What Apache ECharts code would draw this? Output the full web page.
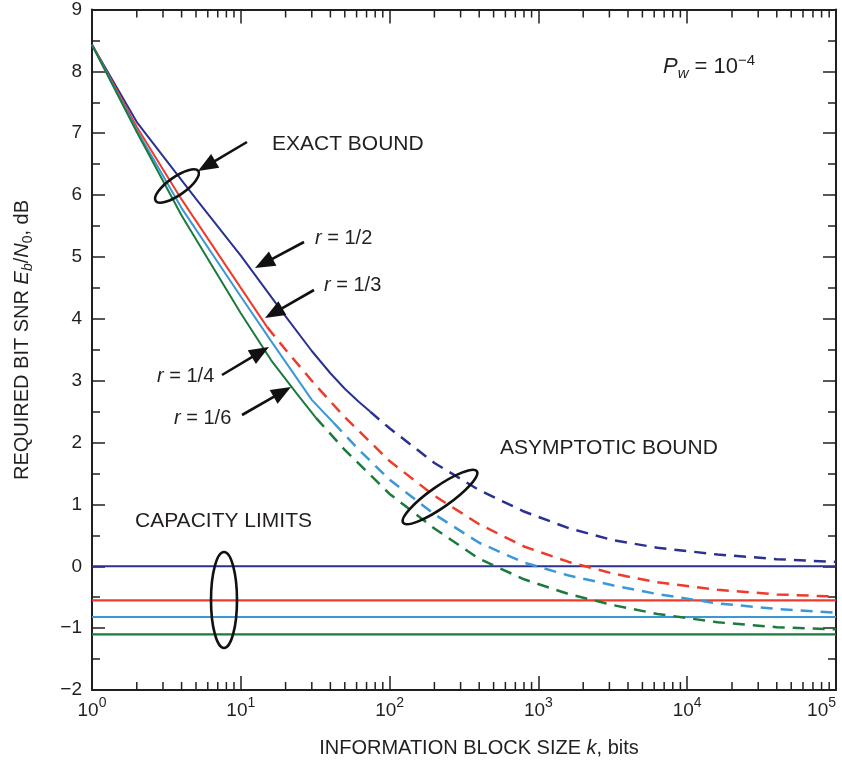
<!DOCTYPE html>
<html><head><meta charset="utf-8">
<script src="https://cdn.jsdelivr.net/npm/echarts@6/dist/echarts.min.js"></script>
<style>html,body{margin:0;padding:0;background:#fff}#c{width:842px;height:771px}</style>
</head><body><div id="c"></div>
<script>
// ---------- data ----------
const xTickExponents = [0, 1, 2, 3, 4, 5];
const yMin = -2, yMax = 9;
const rateLabels = ['r = 1/2', 'r = 1/3', 'r = 1/4', 'r = 1/6'];
const capacityLimits = [0, -0.55, -0.82, -1.10];

const kExactHalf = [1, 2, 5, 10, 20, 30, 40, 50, 62, 74];
const exactHalf  = [8.43, 7.18, 5.94, 5.02, 4.04, 3.48, 3.12, 2.87, 2.66, 2.50];
const kAsymHalf  = [74, 100, 200, 400, 800, 1600, 3200, 6300, 16000, 40000, 100000];
const asymHalf   = [2.50, 2.23, 1.67, 1.23, 0.885, 0.615, 0.42, 0.30, 0.19, 0.115, 0.07];

const kExactThird = [1, 2, 4, 10, 15];
const exactThird  = [8.43, 7.10, 5.93, 4.50, 3.87];
const kAsymThird  = [15, 20, 32, 50, 100, 200, 400, 800, 1600, 3200, 6300, 16000, 40000, 100000];
const asymThird   = [3.87, 3.50, 2.92, 2.41, 1.70, 1.14, 0.68, 0.32, 0.07, -0.12, -0.26, -0.38, -0.455, -0.49];

const kExactQuarter = [1, 2, 4, 10, 16, 30, 42];
const exactQuarter  = [8.43, 7.05, 5.79, 4.36, 3.64, 2.69, 2.32];
const kAsymQuarter  = [42, 63, 100, 200, 400, 800, 1600, 3200, 6300, 16000, 40000, 100000];
const asymQuarter   = [2.32, 1.87, 1.40, 0.84, 0.38, 0.06, -0.15, -0.31, -0.45, -0.60, -0.69, -0.75];

const kExactSixth = [1, 2, 4, 10, 16, 24, 32];
const exactSixth  = [8.43, 7.02, 5.67, 4.09, 3.33, 2.78, 2.40];
const kAsymSixth  = [32, 50, 100, 200, 400, 800, 1600, 3200, 6300, 16000, 40000, 100000];
const asymSixth   = [2.40, 1.88, 1.17, 0.61, 0.12, -0.21, -0.45, -0.63, -0.77, -0.905, -0.985, -1.02];

const colors = ['#2b3190', '#ee3b2b', '#3a98d8', '#1b7a3e'];

// ---------- helpers ----------
const pairs = (ks, vs) => ks.map((k, i) => [k, vs[i]]);
const FONT = "'Liberation Sans', Arial, Helvetica, sans-serif";
const INK = '#231f20';

const minorTickValues = [];
for (let d = 0; d < 5; d++) for (let m = 2; m <= 9; m++) minorTickValues.push(m * Math.pow(10, d));

const exactSets = [pairs(kExactHalf, exactHalf), pairs(kExactThird, exactThird), pairs(kExactQuarter, exactQuarter), pairs(kExactSixth, exactSixth)];
const asymSets  = [pairs(kAsymHalf, asymHalf), pairs(kAsymThird, asymThird), pairs(kAsymQuarter, asymQuarter), pairs(kAsymSixth, asymSixth)];

const series = [];
for (let i = 0; i < 4; i++) {
  series.push({ name: rateLabels[i] + ' exact', type: 'line', data: exactSets[i], showSymbol: false, silent: true,
    lineStyle: { color: colors[i], width: 2 }, z: 3 });
  series.push({ name: rateLabels[i] + ' asymptotic', type: 'line', data: asymSets[i], showSymbol: false, silent: true,
    lineStyle: { color: colors[i], width: 2.5, type: [12, 8] }, z: 3 });
  series.push({ name: rateLabels[i] + ' capacity', type: 'line', data: [[1, capacityLimits[i]], [100000, capacityLimits[i]]],
    showSymbol: false, silent: true, lineStyle: { color: colors[i], width: 2.2 }, z: 2 });
}
series.push({
  type: 'custom', silent: true, z: 5,
  data: minorTickValues.map(v => [v, 0]),
  encode: { x: 0, y: 1 },
  renderItem: (params, api) => {
    const v = api.value(0);
    const pb = api.coord([v, yMin]);
    const pt = api.coord([v, yMax]);
    return { type: 'group', children: [
      { type: 'line', shape: { x1: pb[0], y1: pb[1], x2: pb[0], y2: pb[1] - 8 }, style: { stroke: INK, lineWidth: 1.5 } },
      { type: 'line', shape: { x1: pt[0], y1: pt[1], x2: pt[0], y2: pt[1] + 8 }, style: { stroke: INK, lineWidth: 1.5 } }
    ]};
  }
});

function arrow(x1, y1, x2, y2) {
  const dx = x2 - x1, dy = y2 - y1, len = Math.hypot(dx, dy);
  const ux = dx / len, uy = dy / len, L = 20, W = 8;
  const bx = x2 - ux * L, by = y2 - uy * L;
  return [
    { type: 'line', shape: { x1, y1, x2: bx + ux * 2, y2: by + uy * 2 }, style: { stroke: '#111', lineWidth: 2.6 }, z: 10 },
    { type: 'polygon', shape: { points: [[x2, y2], [bx - uy * W, by + ux * W], [bx + uy * W, by - ux * W]] }, style: { fill: '#111' }, z: 10 }
  ];
}
function ellipse(cx, cy, rx, ry, deg) {
  return { type: 'ellipse', x: cx, y: cy, rotation: deg * Math.PI / 180, shape: { cx: 0, cy: 0, rx, ry },
    style: { fill: 'none', stroke: '#111', lineWidth: 2.6 }, z: 10 };
}
function label(x, y, text, rich, size) {
  return { type: 'text', x, y, z: 10, style: { text, fill: INK, fontFamily: FONT, fontSize: size || 21,
    verticalAlign: 'middle', align: 'left', rich: rich || {} } };
}
const rRich = { i: { fontStyle: 'italic', fontSize: 20, fontFamily: FONT, fill: INK }, t: { fontSize: 20, fontFamily: FONT, fill: INK } };
const rText = s => '{i|r}{t|' + s.slice(1) + '}';

const graphic = [
  label(272, 144, 'EXACT BOUND'),
  label(500, 448, 'ASYMPTOTIC BOUND'),
  label(135, 521, 'CAPACITY LIMITS'),
  label(315, 238, rText(rateLabels[0]), rRich, 20),
  label(324, 285, rText(rateLabels[1]), rRich, 20),
  label(157, 376, rText(rateLabels[2]), rRich, 20),
  label(174, 418, rText(rateLabels[3]), rRich, 20),
  label(663, 67, '{i|P}{w|w}{t| = 10}{s|\u22124}', {
    i: { fontStyle: 'italic', fontSize: 22, lineHeight: 28, fontFamily: FONT, fill: INK },
    w: { fontStyle: 'italic', fontSize: 15, lineHeight: 15, verticalAlign: 'bottom', fontFamily: FONT, fill: INK },
    t: { fontSize: 22, lineHeight: 28, fontFamily: FONT, fill: INK },
    s: { fontSize: 15, lineHeight: 15, verticalAlign: 'top', fontFamily: FONT, fill: INK }
  }, 22),
  ...arrow(247, 142, 198, 171),
  ...arrow(304, 242, 255, 268),
  ...arrow(314, 290, 265, 318),
  ...arrow(222, 375, 269, 347),
  ...arrow(242, 415, 291, 387),
  ellipse(177, 186, 26, 9, 35),
  ellipse(440, 497, 45, 10.5, 35),
  ellipse(224, 600, 13, 48, 0),
  { type: 'text', x: 479, y: 748, z: 10, style: { text: '{t|INFORMATION BLOCK SIZE }{i|k}{t|, bits}', align: 'center', verticalAlign: 'middle',
      rich: { t: { fontSize: 20, fontFamily: FONT, fill: INK }, i: { fontSize: 20, fontStyle: 'italic', fontFamily: FONT, fill: INK } } } },
  { type: 'text', x: 22, y: 340, rotation: Math.PI / 2, z: 10, style: {
      text: '{t|REQUIRED BIT SNR }{i|E}{is|b}{t|/}{i|N}{s|0}{t|, dB}', align: 'center', verticalAlign: 'middle',
      rich: {
        t: { fontSize: 20, lineHeight: 26, fontFamily: FONT, fill: INK },
        i: { fontSize: 20, lineHeight: 26, fontStyle: 'italic', fontFamily: FONT, fill: INK },
        is: { fontSize: 14, lineHeight: 14, fontStyle: 'italic', verticalAlign: 'bottom', fontFamily: FONT, fill: INK },
        s: { fontSize: 14, lineHeight: 14, verticalAlign: 'bottom', fontFamily: FONT, fill: INK }
      } } }
];

const axisLine = { show: true, onZero: false, lineStyle: { color: INK, width: 2 } };
const yCommon = {
  type: 'value', min: yMin, max: yMax, interval: 1, axisLine,
  axisTick: { show: true, inside: true, length: 13, lineStyle: { color: INK, width: 1.5 } },
  minorTick: { show: true, splitNumber: 2, length: 8, lineStyle: { color: INK, width: 1.5 } },
  splitLine: { show: false }, minorSplitLine: { show: false }
};

const chart = echarts.init(document.getElementById('c'), null, { renderer: 'canvas' });
chart.setOption({
  animation: false,
  backgroundColor: '#fff',
  grid: { left: 92, right: 6, top: 2, bottom: 81, containLabel: false },
  xAxis: [
    { type: 'log', logBase: 10, min: 1, max: 100000, splitNumber: 5, position: 'bottom', axisLine,
      axisTick: { show: true, inside: true, length: 14, lineStyle: { color: INK, width: 1.5 } },
      splitLine: { show: false },
      axisLabel: { show: true, margin: 6, color: INK, fontFamily: FONT, alignMaxLabel: 'right',
        formatter: v => { const e = Math.round(Math.log10(v)); return xTickExponents.includes(e) ? '{b|10}{s|' + e + '}' : ''; },
        rich: { b: { fontSize: 19, lineHeight: 30, fontFamily: FONT, color: INK }, s: { fontSize: 14, lineHeight: 14, verticalAlign: 'top', fontFamily: FONT, color: INK } } } },
    { type: 'log', logBase: 10, min: 1, max: 100000, splitNumber: 5, position: 'top', axisLine,
      axisTick: { show: true, inside: true, length: 14, lineStyle: { color: INK, width: 1.5 } },
      splitLine: { show: false }, axisLabel: { show: false } }
  ],
  yAxis: [
    Object.assign({}, yCommon, { position: 'left', axisLabel: { show: true, margin: 10, fontSize: 19, fontFamily: FONT, color: INK,
      formatter: v => (v < 0 ? '\u2212' + Math.abs(v) : String(v)) } }),
    Object.assign({}, yCommon, { position: 'right', axisLabel: { show: false } })
  ],
  series,
  graphic
});
</script></body></html>
